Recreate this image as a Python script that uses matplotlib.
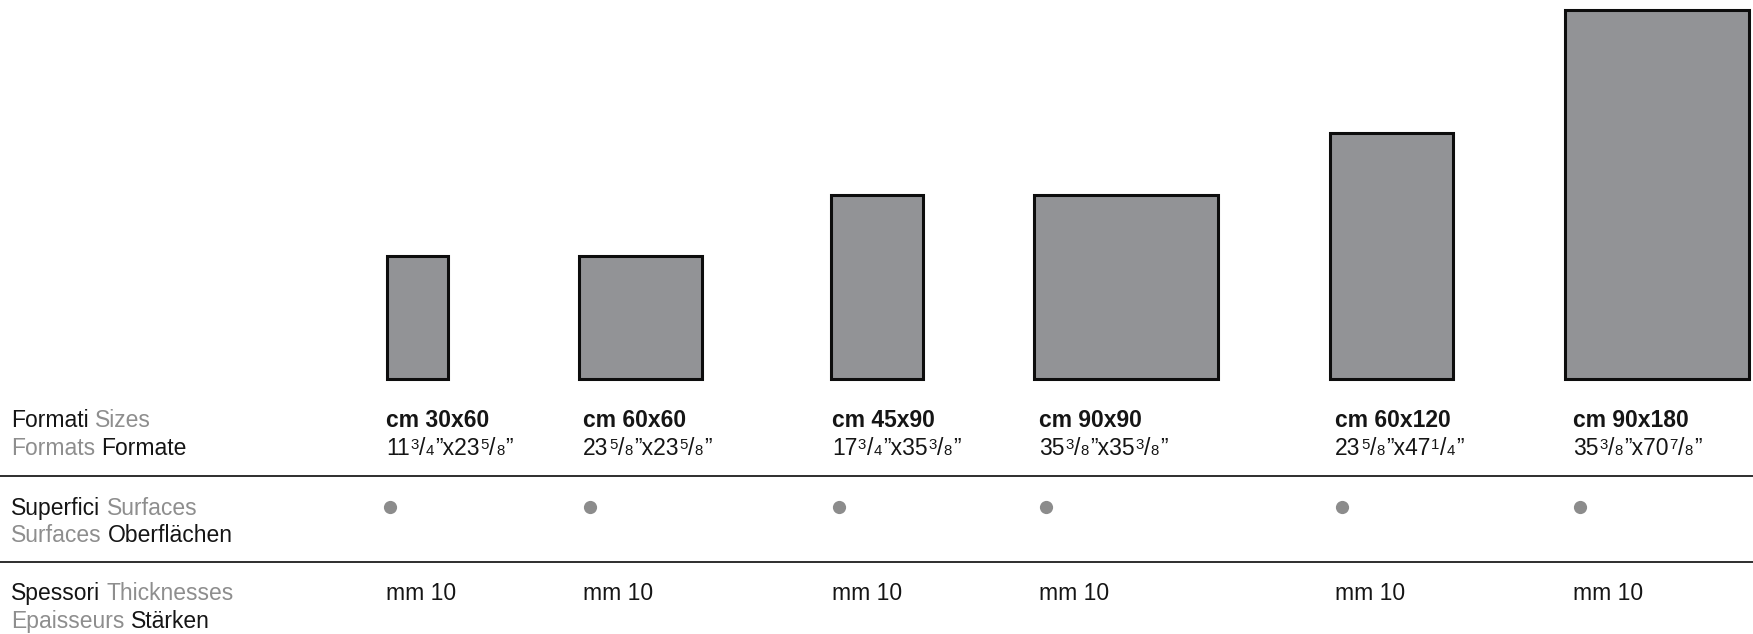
import matplotlib
import matplotlib.pyplot as plt
plt.switch_backend('agg')

plt.rcParams['font.family'] = ['Liberation Sans', 'DejaVu Sans']

# tile formats in cm (width x height)
widths_cm = [30, 60, 45, 90, 60, 90]
heights_cm = [60, 60, 90, 90, 120, 180]
size_labels = ['cm 30x60', 'cm 60x60', 'cm 45x90', 'cm 90x90', 'cm 60x120', 'cm 90x180']
# inch equivalents: (whole, numerator, denominator) for width and height
inch_sizes = [
	((11, 3, 4), (23, 5, 8)),
	((23, 5, 8), (23, 5, 8)),
	((17, 3, 4), (35, 3, 8)),
	((35, 3, 8), (35, 3, 8)),
	((23, 5, 8), (47, 1, 4)),
	((35, 3, 8), (70, 7, 8)),
]
thickness = ['mm 10'] * 6
surfaces = [1] * 6

row_labels = [
	[('Formati', 'k'), ('Sizes', 'g')],
	[('Formats', 'g'), ('Formate', 'k')],
	[('Superfici', 'k'), ('Surfaces', 'g')],
	[('Surfaces', 'g'), ('Oberflächen', 'k')],
	[('Spessori', 'k'), ('Thicknesses', 'g')],
	[('Epaisseurs', 'g'), ('Stärken', 'k')],
]

# layout (pixel units, y measured from top of image)
W, H = 1753, 634
k = 2.05
bar_x = [387, 579, 831, 1034, 1330, 1565]
text_x = [386, 583, 832, 1039, 1335, 1573]
dot_x = [390, 590, 839, 1046, 1342, 1580]
bar_base = 379
label_y = [427, 455, 515, 542, 600, 628]
rule_y = [476, 562]
dot_y = 507

BLACK = '#151515'
GREY = '#8e8e8e'
FS = 16.5
SMALL = 10.8

fig = plt.figure(figsize=(W / 100, H / 100), dpi=100)
ax = fig.add_axes([0, 0, 1, 1])
ax.set_xlim(0, W)
ax.set_ylim(0, H)
ax.axis('off')


def Y(y):
	return H - y


def runs(x, y, parts):
	# parts: (text, size, color, weight, dx, dy) chained left to right
	prev = None
	for s, size, color, weight, dx, dy in parts:
		if prev is None:
			prev = ax.annotate(s, xy=(x, Y(y)), xycoords='data', xytext=(dx, dy),
							   textcoords='offset points', ha='left', va='baseline',
							   fontsize=size, color=color, fontweight=weight)
		else:
			prev = ax.annotate(s, xy=(1, Y(y)), xycoords=(prev, 'data'), xytext=(dx, dy),
							   textcoords='offset points', ha='left', va='baseline',
							   fontsize=size, color=color, fontweight=weight)
	return prev


# tiles
ax.bar(bar_x, [h * k for h in heights_cm], width=[w * k for w in widths_cm],
	   bottom=Y(bar_base), align='edge', color='#929396', edgecolor='#0d0d0d',
	   linewidth=2.2, zorder=2)

# rules
for ry in rule_y:
	ax.axhline(Y(ry), color='#1e1e1e', lw=1.3)

# row labels
for ly, parts in zip(label_y, row_labels):
	pr = []
	for i, (word, c) in enumerate(parts):
		pr.append((word, FS, BLACK if c == 'k' else GREY, 'normal', 0 if i == 0 else 4.6, 0))
	runs(11, ly, pr)

raise_pt = 0.716 * (FS - SMALL)
for i in range(6):
	tx = text_x[i]
	runs(tx, label_y[0], [(size_labels[i], FS, BLACK, 'bold', 0, 0)])
	pr = []
	for j, (whole, num, den) in enumerate(inch_sizes[i]):
		first = str(whole) if j == 0 else '”x' + str(whole)
		pr.append((first, FS, BLACK, 'normal', 0 if j == 0 else 1.0, 0))
		pr.append((str(num), SMALL, BLACK, 'normal', 0.4, raise_pt))
		pr.append(('/', FS, BLACK, 'normal', 0.3, 0))
		pr.append((str(den), SMALL, BLACK, 'normal', 0.3, 0))
	pr.append(('”', FS, BLACK, 'normal', 0.8, 0))
	runs(tx, label_y[1], pr)
	if surfaces[i]:
		ax.plot(dot_x[i], Y(dot_y), 'o', ms=9.5, color='#8c8c8c', mec='none')
	runs(tx, label_y[4], [(thickness[i], FS, BLACK, 'normal', 0, 0)])

plt.savefig('out.png', dpi=100)
plt.close()
